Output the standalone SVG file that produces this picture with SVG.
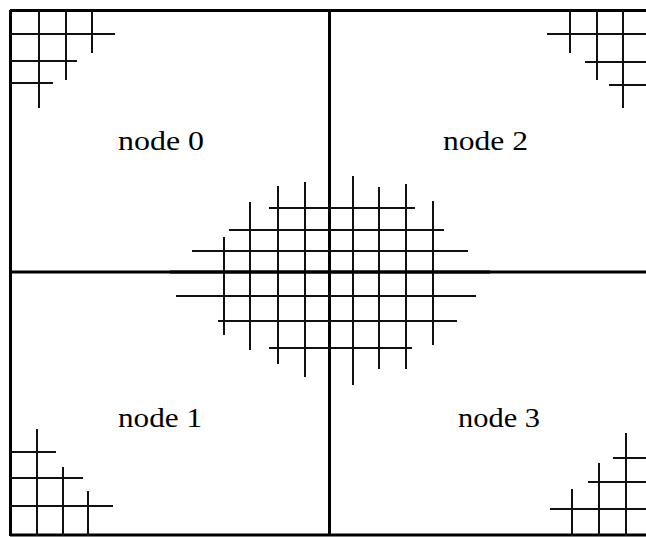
<svg xmlns="http://www.w3.org/2000/svg" width="646" height="537" viewBox="0 0 646 537">
<style>
.frame{stroke:#000;stroke-width:3;fill:none}
.g{stroke:#111;stroke-width:2;fill:none}
.lbl{font-family:"Liberation Serif","Times New Roman",serif;font-size:28px;fill:#000}
</style>
<rect x="0" y="0" width="646" height="537" fill="#fff"/>
<g id="frame">
<path class="frame" d="M10,10.5 H646 M10.5,10 V536 M10,535 H646 M329.5,10 V536 M10,272 H646"/>
</g>
<g id="node0">
<path class="g" d="M10,34 H115 M10,61 H77 M10,83 H53 M39,10 V108 M66,10 V80 M92,10 V53"/>
<text class="lbl" x="118" y="150" textLength="86" lengthAdjust="spacingAndGlyphs">node 0</text>
</g>
<g id="node2">
<path class="g" d="M547,34 H646 M585,62 H646 M609,85 H646 M570,10 V53 M597,10 V80 M623,10 V108"/>
<text class="lbl" x="443" y="150" textLength="85" lengthAdjust="spacingAndGlyphs">node 2</text>
</g>
<g id="node1">
<path class="g" d="M10,452 H56 M10,478 H83 M10,506 H113 M37,429 V536 M63,467 V536 M88,491 V536"/>
<text class="lbl" x="118" y="427" textLength="84" lengthAdjust="spacingAndGlyphs">node 1</text>
</g>
<g id="node3">
<path class="g" d="M613,458 H646 M588,482 H646 M550,509 H646 M572,489 V536 M599,463 V536 M626,433 V536"/>
<text class="lbl" x="458" y="427" textLength="82" lengthAdjust="spacingAndGlyphs">node 3</text>
</g>
<g id="center-grid">
<path class="g" d="M224,237 V335 M250,202 V350 M278,186 V364 M305,182 V377 M353,176 V385 M379,187 V369 M406,184 V369 M433,201 V345"/>
<path class="g" d="M269,208 H415 M229,230 H444 M192,251 H468 M176,296 H476 M218,321 H457 M269,348 H412"/>
<path class="frame" d="M170,272 H490"/>
</g>
</svg>
